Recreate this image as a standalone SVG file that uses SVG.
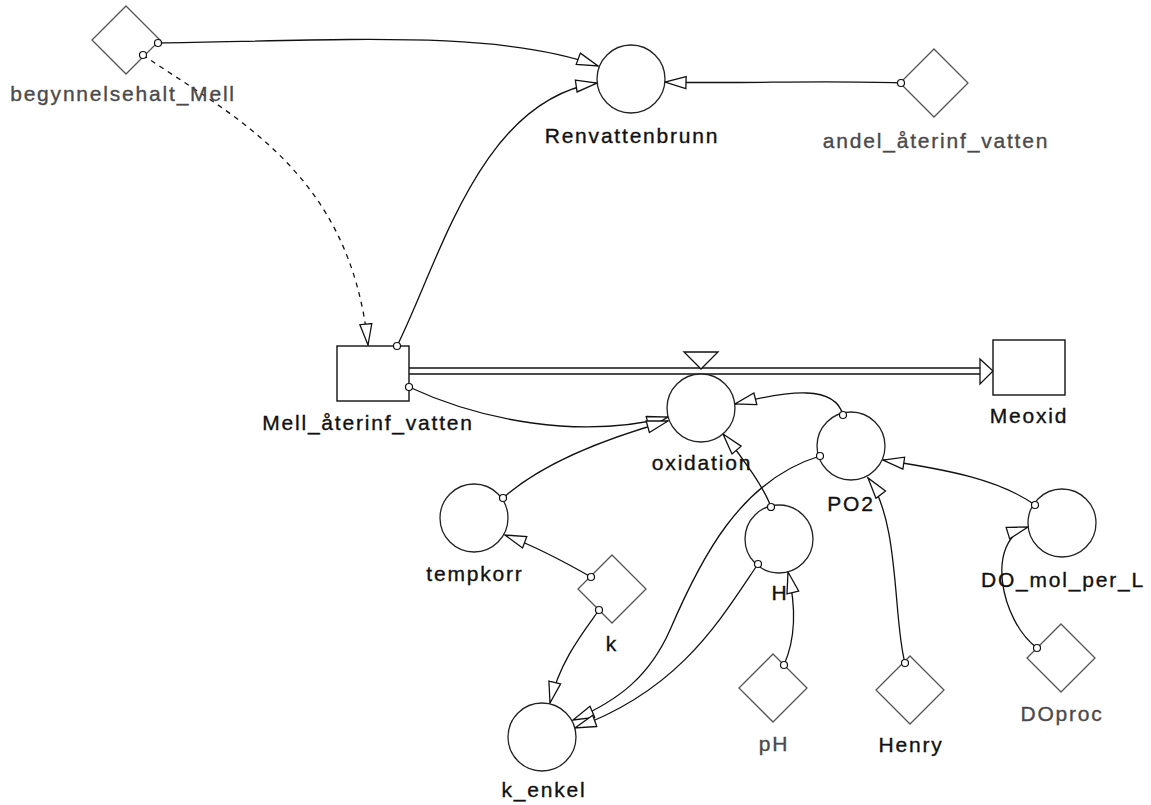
<svg xmlns="http://www.w3.org/2000/svg" width="1151" height="805" viewBox="0 0 1151 805">
<style>
.bg{fill:#fff}
.aux{fill:#fff;stroke:#222;stroke-width:1.3}
.const{fill:#fff;stroke:#555;stroke-width:1.3}
.stock{fill:#fff;stroke:#111;stroke-width:1.4}
.lbl{font-family:"Liberation Sans",Arial,sans-serif;font-size:21px;letter-spacing:1.8px;text-anchor:middle;fill:#111;stroke:#111;stroke-width:0.35}
.gray{fill:#4a4a4a;stroke:#4a4a4a}
.link{fill:none;stroke:#111;stroke-width:1.3;marker-end:url(#ah)}
.dash{stroke-dasharray:5,5}
.dot{fill:#fff;stroke:#111;stroke-width:1.2}
.pipe{fill:none;stroke:#111;stroke-width:1.4}
</style>
<defs>
<marker id="ah" markerUnits="userSpaceOnUse" markerWidth="30" markerHeight="20" refX="22" refY="7" orient="auto" viewBox="0 0 30 20">
<path d="M1,1 L22,7 L1,13 Z" fill="#fff" stroke="#111" stroke-width="1.3"/>
</marker>
</defs>
<rect class="bg" x="0" y="0" width="1151" height="805"/>

<g id="connectors">
<path class="link" d="M158,43 C350,40 500,30 598,66"/>
<path class="link dash" d="M143,55 C230,115 350,170 368,345"/>
<path class="link" d="M397,346 C440,260 480,100 597,83"/>
<path class="link" d="M901,83 C820,80 740,84 665,82"/>
<path class="link" d="M409,387 C480,420 580,440 668,417"/>
<path class="link" d="M503,498 C540,465 600,440 668,421"/>
<path class="link" d="M843,415 C835,385 790,390 735,404"/>
<path class="link" d="M771,507 C765,490 745,460 723,434"/>
<path class="link" d="M820,456 C740,480 700,560 670,630 C650,675 620,700 573,720"/>
<path class="link" d="M758,564 C720,620 680,690 575,728"/>
<path class="link" d="M591,577 C570,565 540,548 505,535"/>
<path class="link" d="M599,610 C585,630 560,660 550,703"/>
<path class="link" d="M784,665 C795,640 797,610 788,572"/>
<path class="link" d="M905,663 C893,620 900,520 868,478"/>
<path class="link" d="M1035,505 C1000,480 950,470 883,460"/>
<path class="link" d="M1037,648 C1000,620 985,540 1028,527"/>
</g>

<g id="flow-oxidation">
<path class="pipe" d="M409,368 H981 M409,374 H981"/>
<path d="M980,359 L993,371 L980,384 Z" fill="#fff" stroke="#111" stroke-width="1.3"/>
<path d="M684,352 L718,352 L701,369 Z" fill="#fff" stroke="#111" stroke-width="1.3"/>
</g>

<g id="begynnelsehalt_Mell">
<path class="const" d="M126,6 L160,40 L126,74 L92,40 Z"/>
<text class="lbl gray" x="123" y="101">begynnelsehalt_Mell</text>
</g>
<g id="Renvattenbrunn">
<circle class="aux" cx="631" cy="79" r="34"/>
<text class="lbl" x="632" y="143">Renvattenbrunn</text>
</g>
<g id="andel_aterinf_vatten">
<path class="const" d="M934,49 L968,83 L934,117 L900,83 Z"/>
<text class="lbl gray" x="936" y="148">andel_återinf_vatten</text>
</g>
<g id="Mell_aterinf_vatten">
<rect class="stock" x="337" y="346" width="72" height="55"/>
<text class="lbl" x="368" y="430">Mell_återinf_vatten</text>
</g>
<g id="Meoxid">
<rect class="stock" x="993" y="340" width="72" height="55"/>
<text class="lbl" x="1029" y="423">Meoxid</text>
</g>
<g id="oxidation">
<circle class="aux" cx="701" cy="408" r="34"/>
<text class="lbl" x="702" y="470">oxidation</text>
</g>
<g id="PO2">
<circle class="aux" cx="851" cy="446" r="34"/>
<text class="lbl" x="851" y="511">PO2</text>
</g>
<g id="H">
<circle class="aux" cx="779" cy="539" r="34"/>
<text class="lbl" x="780" y="600">H</text>
</g>
<g id="DO_mol_per_L">
<circle class="aux" cx="1062" cy="523" r="34"/>
<text class="lbl" x="1063" y="587">DO_mol_per_L</text>
</g>
<g id="tempkorr">
<circle class="aux" cx="474" cy="518" r="34"/>
<text class="lbl" x="475" y="581">tempkorr</text>
</g>
<g id="k">
<path class="const" d="M612,555 L646,589 L612,623 L578,589 Z"/>
<text class="lbl" x="612" y="651">k</text>
</g>
<g id="k_enkel">
<circle class="aux" cx="542" cy="737" r="34"/>
<text class="lbl" x="544" y="797">k_enkel</text>
</g>
<g id="pH">
<path class="const" d="M773,654 L807,688 L773,722 L739,688 Z"/>
<text class="lbl gray" x="774" y="751">pH</text>
</g>
<g id="Henry">
<path class="const" d="M910,656 L944,690 L910,724 L876,690 Z"/>
<text class="lbl" x="911" y="752">Henry</text>
</g>
<g id="DOproc">
<path class="const" d="M1061,624 L1095,658 L1061,692 L1027,658 Z"/>
<text class="lbl gray" x="1062" y="721">DOproc</text>
</g>

<g id="dots">
<circle class="dot" cx="158" cy="43" r="3.5"/>
<circle class="dot" cx="143" cy="55" r="3.5"/>
<circle class="dot" cx="901" cy="83" r="3.5"/>
<circle class="dot" cx="397" cy="346" r="3.5"/>
<circle class="dot" cx="409" cy="387" r="3.5"/>
<circle class="dot" cx="503" cy="498" r="3.5"/>
<circle class="dot" cx="843" cy="415" r="3.5"/>
<circle class="dot" cx="820" cy="456" r="3.5"/>
<circle class="dot" cx="771" cy="507" r="3.5"/>
<circle class="dot" cx="758" cy="564" r="3.5"/>
<circle class="dot" cx="591" cy="577" r="3.5"/>
<circle class="dot" cx="599" cy="610" r="3.5"/>
<circle class="dot" cx="784" cy="665" r="3.5"/>
<circle class="dot" cx="905" cy="663" r="3.5"/>
<circle class="dot" cx="1035" cy="505" r="3.5"/>
<circle class="dot" cx="1037" cy="648" r="3.5"/>
</g>
</svg>
